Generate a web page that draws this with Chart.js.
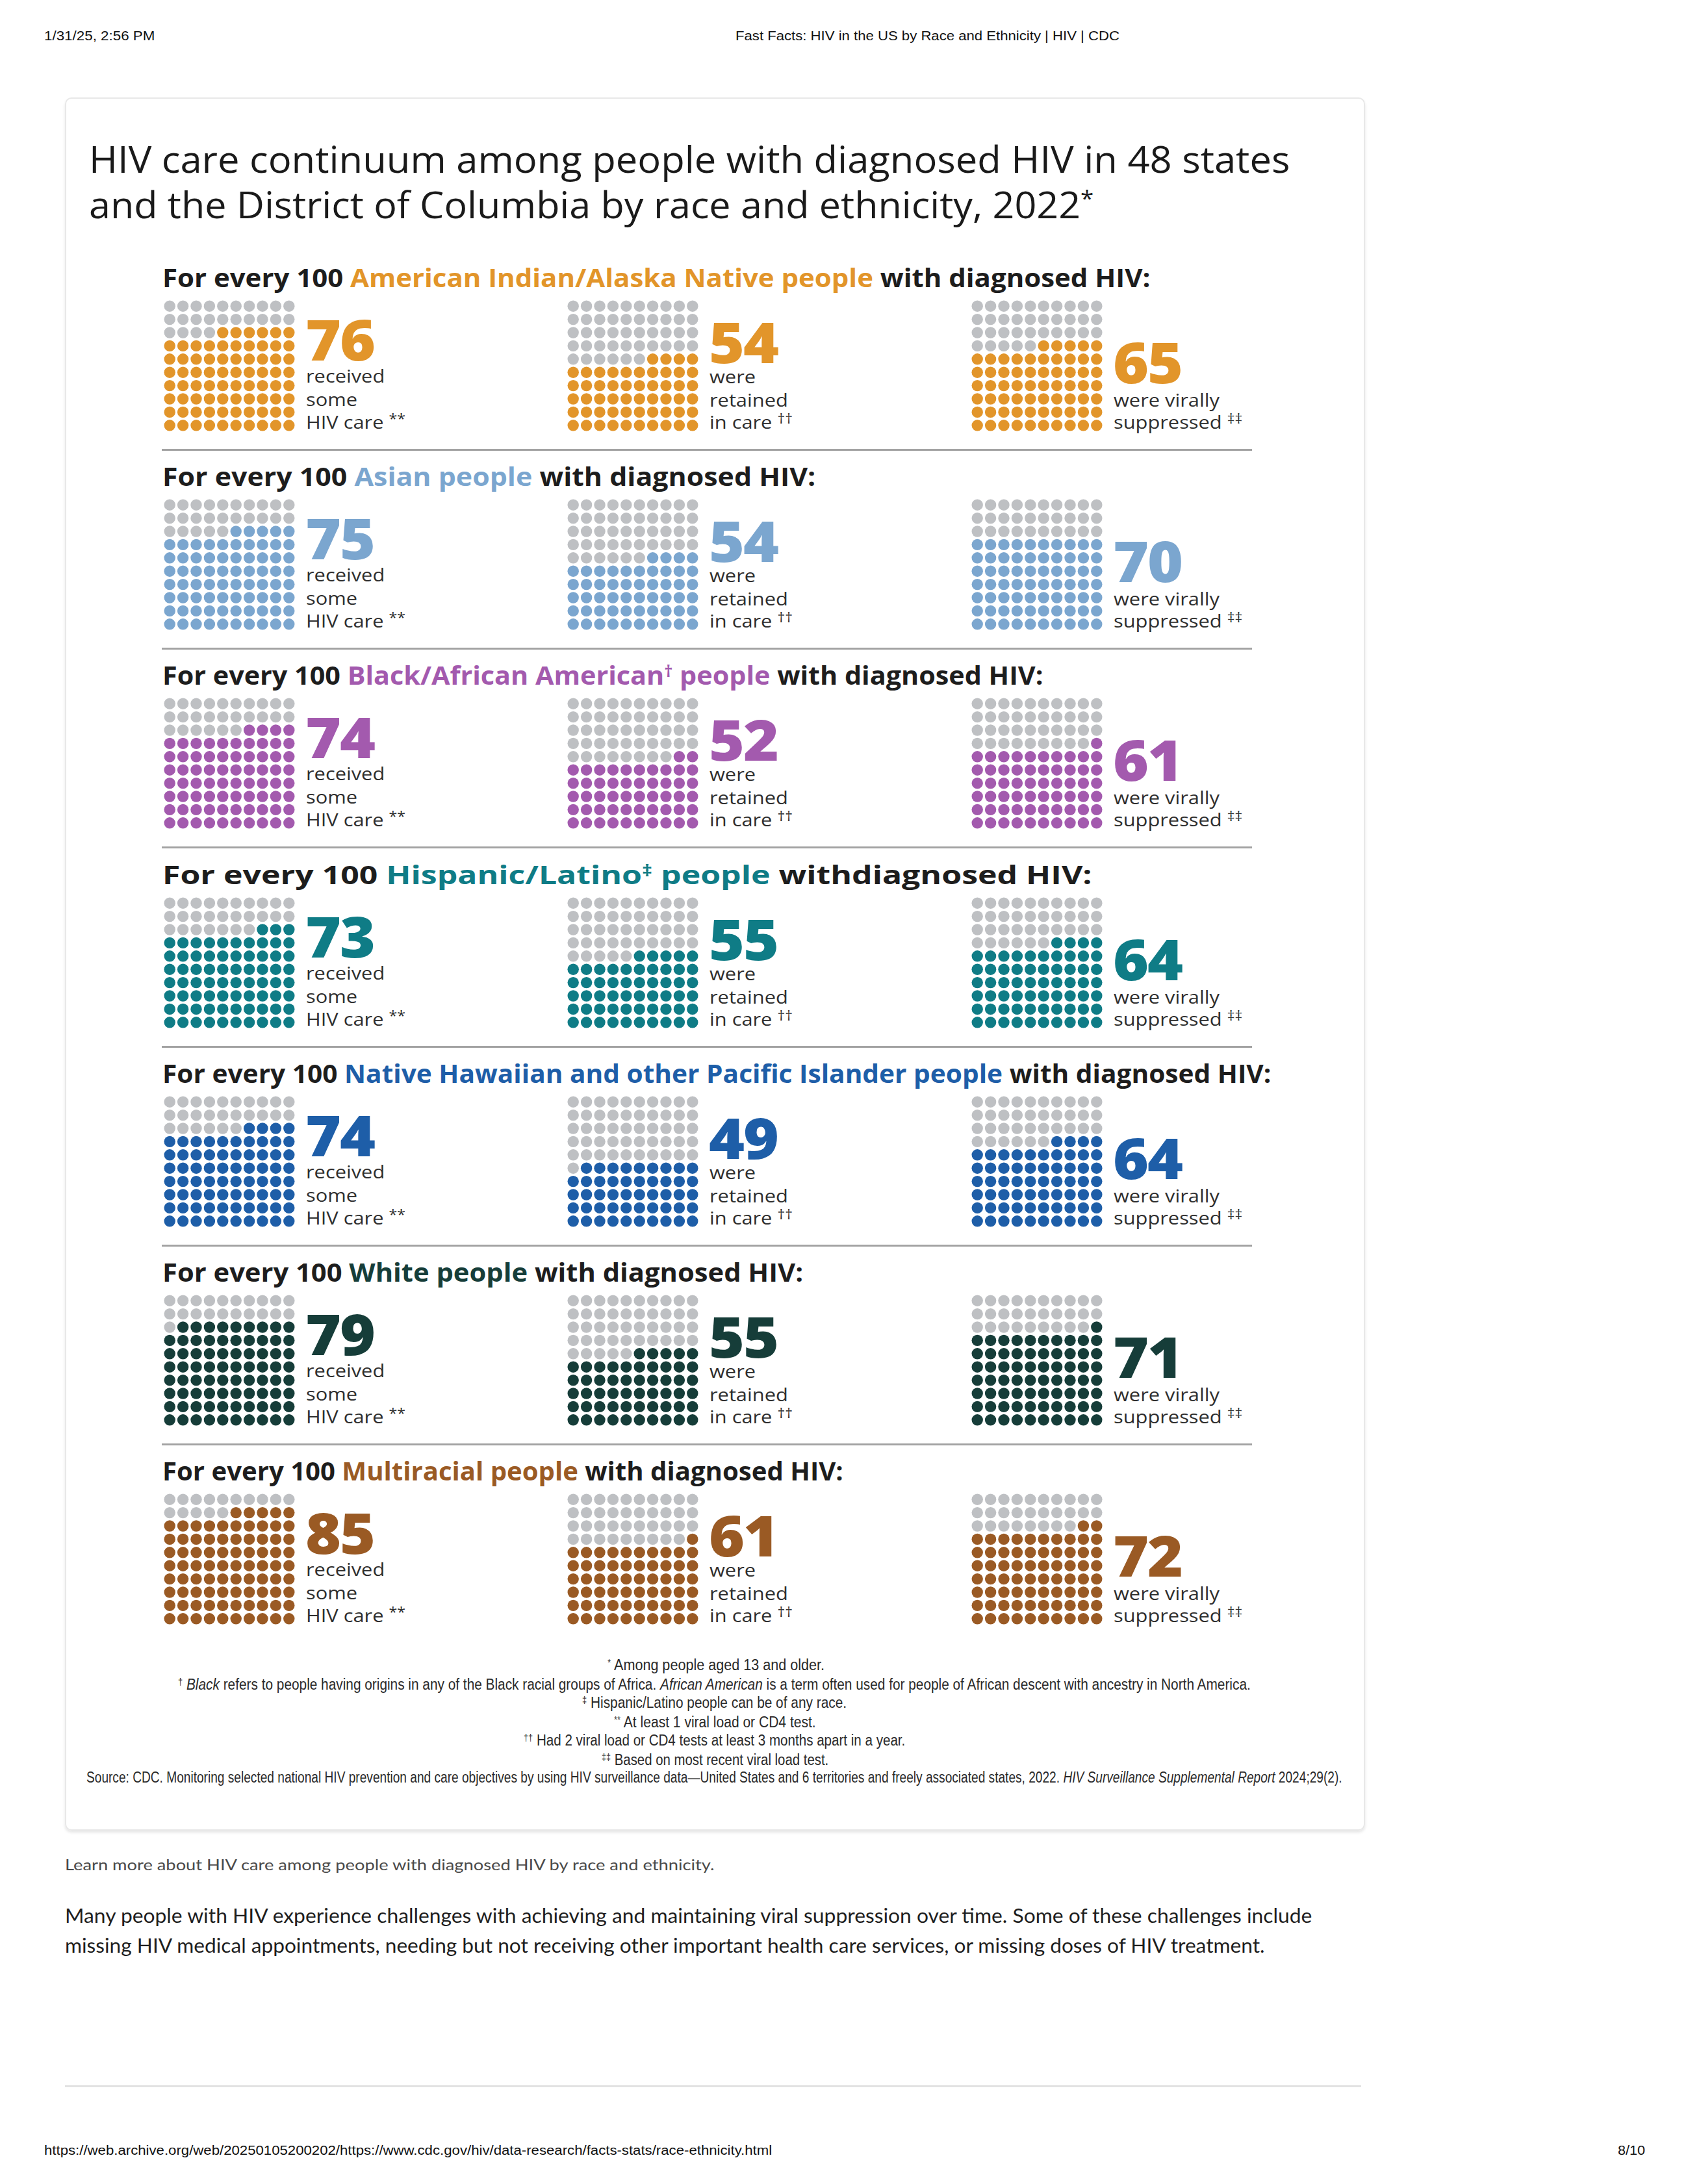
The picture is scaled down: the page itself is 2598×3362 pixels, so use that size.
<!DOCTYPE html>
<html>
<head>
<title>HIV care continuum by race and ethnicity</title>
<script src="https://cdn.jsdelivr.net/npm/chart.js"></script>
<style>
    body {
        margin: 0;
        background: #fff;
        font-family: 'Open Sans', sans-serif;
    }
    #page {
        position: relative;
        width: 2598px;
        height: 3362px;
        overflow: hidden;
    }
    .t {
        position: absolute;
        white-space: nowrap;
        line-height: 1;
        transform-origin: 0 0;
    }
    .bl {
        display: inline-block;
        width: 0;
        height: 0;
        vertical-align: baseline;
    }
    .card {
        position: absolute;
        left: 100px;
        top: 150px;
        width: 1997px;
        height: 2664px;
        border: 2px solid #e8e8e8;
        border-radius: 10px;
        box-shadow: 0 3px 4px rgba(0,0,0,0.10);
    }
    .rule {
        position: absolute;
        height: 3px;
        background: #a3a3a3;
    }
    .sup {
        font-size: 0.62em;
        vertical-align: 0.5em;
        line-height: 0;
    }
    .lab .sup {
        font-size: 0.75em;
        vertical-align: 0.4em;
    }
    canvas.waffle {
        position: absolute;
    }
</style>
</head>
<body>
<div id="page">
    <div class="card"></div>
</div>

<script>
    // per group values (out of 100 people with diagnosed HIV)
    const groups = ['American Indian/Alaska Native', 'Asian', 'Black/African American', 'Hispanic/Latino',
        'Native Hawaiian and other Pacific Islander', 'White', 'Multiracial'];
    const receivedCare = [76, 75, 74, 73, 74, 79, 85];
    const retainedInCare = [54, 54, 52, 55, 49, 55, 61];
    const virallySuppressed = [65, 70, 61, 64, 64, 71, 72];

    const groupMarks = ['', '', '<span class="sup">†</span>', '<span class="sup">‡</span>', '', '', ''];
    const groupColors = ['#E2952A', '#7BA6CF', '#A35AAE', '#0F7C86', '#1E5EA8', '#163D39', '#9A5A24'];
    const GRAY = '#BEC0C3';

    const page = document.getElementById('page');

    function put(html, x, base, size, style, w, cls) {
        const d = document.createElement('div');
        d.className = 't' + (cls ? ' ' + cls : '');
        d.style.left = x + 'px';
        d.style.fontSize = size + 'px';
        Object.assign(d.style, style || {});
        d.innerHTML = html + '<span class="bl"></span>';
        page.appendChild(d);
        const off = d.querySelector('.bl').offsetTop;
        d.style.top = (base - off) + 'px';
        if (w) d.style.transform = 'scaleX(' + (w / d.offsetWidth) + ')';
        return d;
    }

    function rule(x1, x2, y, color, h) {
        const r = document.createElement('div');
        r.className = 'rule';
        r.style.left = x1 + 'px';
        r.style.width = (x2 - x1) + 'px';
        r.style.top = y + 'px';
        if (color) r.style.background = color;
        if (h) r.style.height = h + 'px';
        page.appendChild(r);
    }

    function waffle(x, y, value, color) {
        const c = document.createElement('canvas');
        c.className = 'waffle';
        c.width = 204;
        c.height = 204;
        c.style.left = x + 'px';
        c.style.top = y + 'px';
        page.appendChild(c);

        const pts = [], fills = [];
        for (let r = 0; r < 10; r++) {
            for (let k = 0; k < 10; k++) {
                pts.push({x: k, y: 9 - r});
                fills.push(r * 10 + k >= 100 - value ? color : GRAY);
            }
        }
        new Chart(c, {
            type: 'scatter',
            data: {
                datasets: [{
                    data: pts,
                    pointBackgroundColor: fills,
                    pointBorderWidth: 0,
                    pointRadius: 8.7,
                    clip: false
                }]
            },
            options: {
                responsive: false,
                devicePixelRatio: 1,
                animation: false,
                events: [],
                layout: { padding: 0, autoPadding: false },
                plugins: { legend: { display: false }, tooltip: { enabled: false } },
                scales: {
                    x: { display: false, min: -0.5, max: 9.5 },
                    y: { display: false, min: -0.5, max: 9.5 }
                }
            }
        });
    }

    // browser print header / footer
    const arial = { fontFamily: "'Liberation Sans', Arial, sans-serif", color: '#111' };
    put('1/31/25, 2:56 PM', 68, 62, 20, arial, 170);
    put('Fast Facts: HIV in the US by Race and Ethnicity | HIV | CDC', 1132, 62, 20, arial, 591);
    put('https://web.archive.org/web/20250105200202/https://www.cdc.gov/hiv/data-research/facts-stats/race-ethnicity.html', 68, 3317, 20, arial, 1120);
    put('8/10', 2490, 3317, 20, arial, 42);

    // title
    const titleStyle = { color: '#1a1a1a', fontWeight: 400 };
    put('HIV care continuum among people with diagnosed HIV in 48 states', 137, 266, 57, titleStyle, 1848);
    put('and the District of Columbia by race and ethnicity, 2022<span class="sup">*</span>', 137, 336, 57, titleStyle, 1546);

    const headWidths = [1520, 1005, 1355, 1430, 1706, 986, 1048];
    const colX = [251, 872, 1494];
    const numBase = [94, 98, 129];
    const labels = [
        [['received', 128], ['some', 164], ['HIV care <span class="sup">**</span>', 199]],
        [['were', 129], ['retained', 165], ['in care <span class="sup">††</span>', 199]],
        [['were virally', 165], ['suppressed <span class="sup">‡‡</span>', 199]]
    ];

    groups.forEach((g, i) => {
        const top = 461 + i * 306.2;
        const col = groupColors[i];
        const tail = i === 3 ? ' withdiagnosed HIV:' : ' with diagnosed HIV:';
        put('For every 100 <span style="color:' + col + '">' + g + groupMarks[i] + ' people</span>' + tail,
            250, top - 19, 39, { fontWeight: 700, color: '#1d1d1d' }, headWidths[i]);

        const vals = [receivedCare[i], retainedInCare[i], virallySuppressed[i]];
        vals.forEach((v, c) => {
            waffle(colX[c], top, v, col);
            const n = put(String(v), colX[c] + 219, top + numBase[c], 87,
                { fontWeight: 800, color: col, letterSpacing: '-2px', lineHeight: 0.75 });
            n.style.transform = 'scaleX(1.08)';
            labels[c].forEach(([txt, b]) => {
                const l = put(txt, colX[c] + 220, top + b, 28, { color: '#2e2e2e', lineHeight: 0.9 }, 0, 'lab');
                l.style.transform = 'scaleX(1.1)';
            });
        });

        if (i < groups.length - 1) rule(249, 1927, top + 230);
    });

    // footnotes
    const foot = { fontFamily: "'Liberation Sans Narrow', 'Liberation Sans', sans-serif", color: '#2a2a2a', lineHeight: 0.9 };
    const notes = [
        ['<span class="sup">*</span> Among people aged 13 and older.', 935, 2571, 334],
        ['<span class="sup">†</span> <i>Black</i> refers to people having origins in any of the Black racial groups of Africa. <i>African American</i> is a term often used for people of African descent with ancestry in North America.', 274, 2601, 1651],
        ['<span class="sup">‡</span> Hispanic/Latino people can be of any race.', 896, 2629, 407],
        ['<span class="sup">**</span> At least 1 viral load or CD4 test.', 945, 2659, 311],
        ['<span class="sup">††</span> Had 2 viral load or CD4 tests at least 3 months apart in a year.', 806, 2687, 587],
        ['<span class="sup">‡‡</span> Based on most recent viral load test.', 926, 2717, 349],
        ['Source: CDC. Monitoring selected national HIV prevention and care objectives by using HIV surveillance data—United States and 6 territories and freely associated states, 2022. <i>HIV Surveillance Supplemental Report</i> 2024;29(2).', 133, 2744, 1933]
    ];
    notes.forEach(([h, x, b, w]) => put(h, x, b, 23, foot, w));

    // page text below the card
    put('Learn more about HIV care among people with diagnosed HIV by race and ethnicity.', 100, 2879, 23,
        { fontFamily: 'Lato, sans-serif', color: '#4a4a4a', fontWeight: 400 }, 1000);
    const para = { fontFamily: 'Lato, sans-serif', color: '#1e1e1e' };
    put('Many people with HIV experience challenges with achieving and maintaining viral suppression over time. Some of these challenges include', 100, 2960, 30, para, 1919);
    put('missing HIV medical appointments, needing but not receiving other important health care services, or missing doses of HIV treatment.', 100, 3006, 30, para, 1846);
    rule(100, 2095, 3210, '#e2e2e2', 3);
</script>
</body>
</html>
